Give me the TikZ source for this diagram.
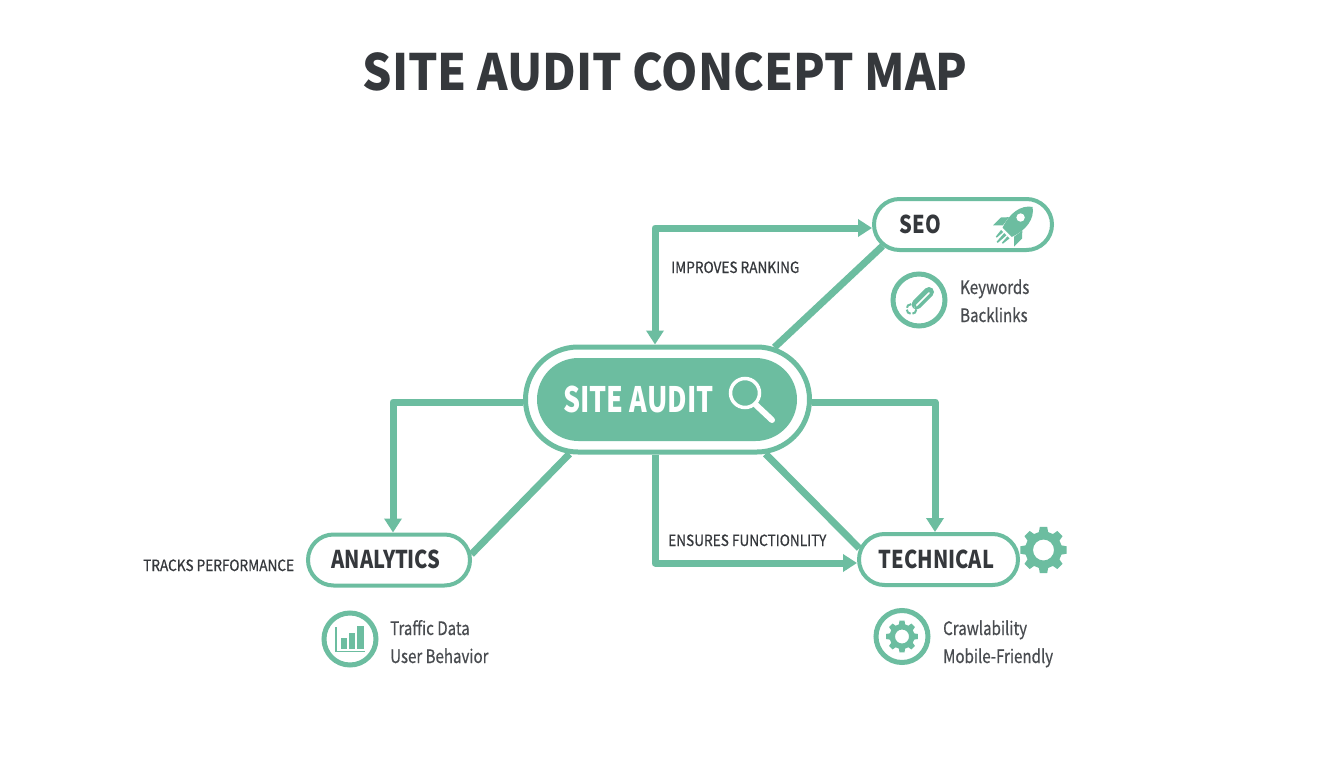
\documentclass[tikz,border=0pt]{standalone}
\usepackage{fontspec}
\setmainfont{Noto Sans CJK SC}
\newfontfamily\titlefont[FakeStretch=0.925]{Noto Sans CJK SC}
\newfontfamily\headfont[FakeStretch=0.82]{Noto Sans CJK SC}
\newfontfamily\hubfont[FakeStretch=0.765]{Noto Sans CJK SC}
\newfontfamily\edgefont[FakeStretch=0.88,FakeBold=0.6]{Noto Sans CJK SC}
\newfontfamily\itemfont[FakeStretch=0.815,FakeBold=0.5]{Noto Sans CJK SC}
\usetikzlibrary{arrows.meta,shapes.misc,backgrounds}
\definecolor{mint}{HTML}{6CBDA0}
\definecolor{ink}{HTML}{35383C}
\tikzset{
  pill/.style={rounded rectangle,draw=mint,fill=white,line width=4pt,inner sep=0pt,minimum width=#1,minimum height=51pt},
  link/.style={draw=mint,line width=7pt,line join=round},
  tipped/.style={-{Triangle[width=17pt,length=14pt]}},
  both/.style={{Triangle[width=17pt,length=14pt]}-{Triangle[width=17pt,length=14pt]}},
  title/.style={font=\titlefont\fontsize{50}{50}\selectfont\bfseries,text=ink,inner sep=0pt,anchor=base},
  head/.style={font=\headfont\fontsize{24.5}{25}\selectfont\bfseries,text=ink,inner sep=0pt,anchor=base},
  edgelabel/.style={font=\edgefont\fontsize{15.5}{16}\selectfont,text=ink,inner sep=0pt,anchor=base west},
  item/.style={font=\itemfont\fontsize{18.5}{19}\selectfont,text=ink!90,inner sep=0pt,anchor=base west},
  badge/.style={circle,draw=mint,fill=white,line width=5pt,inner sep=0pt,minimum size=52pt},
}
\newcommand{\gearshape}[3]{% outer, root, hole
  \fill[mint,even odd rule]
    (-17:#2)
    \foreach \a in {0,45,...,315}{
      -- (\a-14.5:#2) -- (\a-9:#1) -- (\a+9:#1) -- (\a+14.5:#2)
    } -- cycle
    (0,0) circle (#3);
}
\begin{document}
\begin{tikzpicture}[x=1pt,y=-1pt]
\useasboundingbox (0,0) rectangle (1344,768);

\node[title] (maintitle) at (665,90) {SITE AUDIT CONCEPT MAP};

% hub
\node[rounded rectangle,draw=mint,fill=white,line width=5pt,minimum width=284pt,minimum height=105pt,inner sep=0pt] (hub) at (667.5,399.5) {};
\node[rounded rectangle,fill=mint,minimum width=260pt,minimum height=83pt,inner sep=0pt] (hubcore) at (667,399.5) {};
\node[font=\hubfont\fontsize{35}{35}\selectfont\bfseries,text=white,inner sep=0pt,anchor=base] (hubtext) at (638.5,412) {SITE AUDIT};
\draw[white,line width=3.5pt] (745,393) circle (14.5pt);
\draw[white,line width=6pt,line cap=round] (756,405) -- (772,420);

% satellites
\node[pill=178pt] (seo) at (963,224.5) {};
\node[pill=162pt] (anal) at (389,560) {};
\node[pill=159pt] (tech) at (938.5,559.5) {};
\node[head] (seotext) at (920.5,233) {SEO};
\node[head] (analtext) at (386,568) {ANALYTICS};
\node[head] (techtext) at (936.5,568) {TECHNICAL};

% connectors
\coordinate (bendA) at (655,228);
\coordinate (bendB) at (393,402);
\coordinate (bendC) at (655,563);
\coordinate (bendD) at (935,402);
\begin{scope}[on background layer]
  \fill[white] (0,0) rectangle (1344,768);
  \draw[link,both] (seo.west |- bendA) -- (bendA) -- (bendA |- hub.north);
  \draw[link] (hub.26) -- (seo.195);
  \draw[link,tipped] (hub.west |- bendB) -- (bendB) -- (bendB |- anal.north);
  \draw[link] (hub.209) -- (anal.4);
  \draw[link,tipped] (bendC |- hub.south) -- (bendC) -- (tech.west |- bendC);
  \draw[link] (hub.-29) -- (tech.172);
  \draw[link,tipped] (hub.east |- bendD) -- (bendD) -- (bendD |- tech.north);
\end{scope}

% connector labels
\node[edgelabel] (lblrank) at (671,273) {IMPROVES RANKING};
\node[edgelabel] (lbltrack) at (143,571) {TRACKS PERFORMANCE};
\node[edgelabel] (lblfunc) at (668,546) {ENSURES FUNCTIONLITY};

% rocket
\begin{scope}[shift={(1013.5,226)},rotate=-45]
  \fill[mint] (0,-27) .. controls (10,-20) and (12,-6) .. (6.5,9) -- (-6.5,9) .. controls (-12,-6) and (-10,-20) .. (0,-27) -- cycle;
  \fill[white] (-1,-11) circle (4.2pt);
  \fill[mint] (-9.5,-3) -- (-15,3) -- (-15,14) -- (-8,7) -- cycle;
  \fill[mint] (9.5,-3) -- (15,3) -- (15,14) -- (8,7) -- cycle;
  \fill[mint] (-1.6,11.5) -- (1.6,11.5) -- (0.8,23) -- (-0.8,23) -- cycle;
  \fill[mint] (-6,11.5) -- (-3,11.5) -- (-3.6,20) -- (-5,20) -- cycle;
  \fill[mint] (3,11.5) -- (6,11.5) -- (5,20) -- (3.6,20) -- cycle;
\end{scope}

% big gear
\begin{scope}[shift={(1043.5,550)}]
  \gearshape{23.5}{18.5}{10.5}
\end{scope}

% badges
\node[badge] (bkey) at (919,300) {};
\node[badge] (bchart) at (350,639) {};
\node[badge] (bgear) at (902,636.5) {};

% tool icon
\draw[mint,line width=10pt,line cap=round] (929,292) -- (916.5,304.5);
\draw[white,line width=1.6pt,line cap=round] (929,293) -- (915,307);
\draw[mint,line width=2pt,dash pattern=on 6pt off 2pt] (911.5,309) circle (5pt);

% chart icon
\draw[mint,line width=1.8pt] (336,627) -- (336,651.5) -- (365,651.5);
\fill[mint] (341,638) rectangle (346.5,649);
\fill[mint] (348.5,633) rectangle (354.5,649);
\fill[mint] (357,626) rectangle (363.5,649);

% small gear
\begin{scope}[shift={(902,636.5)}]
  \gearshape{16}{12.5}{7}
\end{scope}

% item texts
\node[item] (kw) at (960,294) {Keywords};
\node[item] (bl) at (960,322) {Backlinks};
\node[item] (td) at (390,635) {Traffic Data};
\node[item] (ub) at (390,663) {User Behavior};
\node[item] (cr) at (943,635) {Crawlability};
\node[item] (mf) at (943,663) {Mobile-Friendly};
\end{tikzpicture}
\end{document}
